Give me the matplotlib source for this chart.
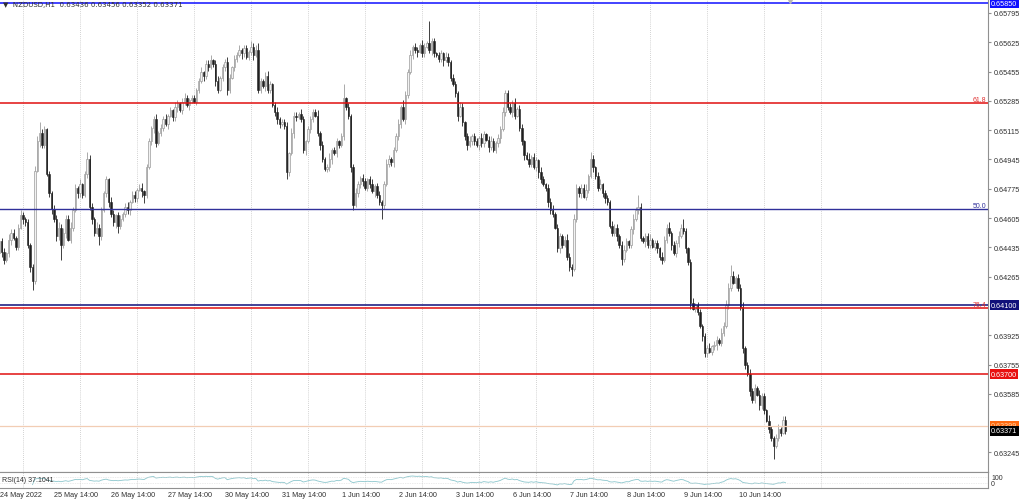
import numpy as np
import pandas as pd
import matplotlib
matplotlib.use('Agg')
import matplotlib.pyplot as plt
import matplotlib.transforms as mtransforms

plt.rcParams['font.family'] = ['Liberation Sans', 'DejaVu Sans']

# NZDUSD H1 closes in pips (0.0001), one row per ~day of 24 bars
closes_pips = [
    6447, 6441, 6436, 6440, 6448, 6452, 6449, 6444, 6455, 6462, 6460, 6458, 6445, 6432, 6424, 6488, 6505, 6510, 6503, 6512, 6486, 6475, 6466, 6460,
    6450, 6455, 6445, 6452, 6460, 6448, 6455, 6465, 6478, 6475, 6480, 6474, 6486, 6495, 6467, 6460, 6452, 6455, 6450, 6465, 6475, 6483, 6470, 6463,
    6458, 6462, 6456, 6460, 6463, 6467, 6465, 6470, 6474, 6472, 6477, 6478, 6476, 6474, 6490, 6505, 6513, 6518, 6504, 6510, 6513, 6518, 6515, 6520,
    6523, 6519, 6525, 6527, 6523, 6528, 6530, 6526, 6529, 6530, 6528, 6535, 6540, 6545, 6543, 6550, 6548, 6552, 6550, 6540, 6535, 6542, 6548, 6551,
    6535, 6542, 6548, 6553, 6555, 6558, 6556, 6559, 6554, 6557, 6560, 6555, 6558, 6535, 6540, 6537, 6543, 6535, 6538, 6526, 6522, 6518, 6515, 6516,
    6514, 6487, 6498, 6510, 6520, 6519, 6521, 6518, 6500, 6505, 6512, 6518, 6522, 6520, 6510, 6503, 6495, 6489, 6490, 6495, 6500, 6498, 6505, 6503,
    6508, 6530, 6525, 6520, 6490, 6468, 6475, 6480, 6484, 6482, 6478, 6483, 6480, 6476, 6479, 6474, 6470, 6468, 6480, 6492, 6495, 6493, 6500, 6508,
    6515, 6525, 6518, 6532, 6545, 6555, 6560, 6558, 6557, 6561, 6556, 6560, 6562, 6558, 6563, 6556, 6555, 6553, 6556, 6552, 6554, 6551, 6542, 6538,
    6533, 6520, 6525, 6516, 6508, 6503, 6505, 6508, 6505, 6503, 6507, 6504, 6509, 6506, 6502, 6505, 6500, 6504, 6507, 6512, 6522, 6533, 6525, 6522,
    6527, 6520, 6524, 6513, 6505, 6497, 6495, 6492, 6496, 6490, 6494, 6487, 6483, 6480, 6478, 6470, 6465, 6463, 6455, 6443, 6450, 6445, 6448, 6438,
    6432, 6431, 6460, 6478, 6475, 6478, 6473, 6477, 6485, 6495, 6490, 6485, 6478, 6480, 6475, 6472, 6470, 6456, 6452, 6455, 6450, 6445, 6437, 6442,
    6447, 6445, 6454, 6460, 6465, 6467, 6449, 6447, 6450, 6445, 6448, 6444, 6446, 6443, 6438, 6436, 6448, 6455, 6452, 6445, 6440, 6446, 6450, 6455,
    6453, 6443, 6435, 6411, 6408, 6410, 6406, 6398, 6392, 6382, 6385, 6383, 6386, 6387, 6390, 6388, 6394, 6398, 6410, 6420, 6427, 6423, 6426, 6420,
    6409, 6385, 6375, 6370, 6360, 6355, 6362, 6358, 6352, 6357, 6349, 6343, 6338, 6333, 6328, 6333, 6338, 6336, 6343.6, 6337.1,
]
first_open_pips = 6440

# wick lengths above / below the body, pips
upper_wick = [
    3, 2, 2, 1, 3, 2, 2, 1, 2, 3, 2, 1, 2, 1, 2, 3, 3, 6, 2, 2, 1, 2, 1, 2,
    2, 3, 2, 3, 2, 2, 3, 2, 2, 1, 3, 1, 2, 4, 2, 2, 1, 3, 2, 2, 1, 2, 1, 3,
    2, 1, 2, 2, 1, 2, 3, 1, 2, 2, 1, 2, 3, 1, 2, 2, 1, 2, 3, 1, 2, 2, 3, 1,
    2, 1, 3, 2, 1, 2, 3, 2, 1, 2, 2, 1, 2, 3, 1, 2, 2, 3, 1, 2, 3, 1, 2, 2,
    3, 2, 1, 2, 2, 3, 1, 2, 2, 1, 3, 2, 3, 4, 2, 1, 2, 3, 2, 1, 2, 3, 1, 2,
    2, 2, 1, 3, 2, 2, 1, 3, 2, 1, 2, 2, 2, 2, 3, 1, 2, 1, 2, 3, 1, 2, 2, 1,
    2, 8, 1, 2, 1, 2, 3, 2, 1, 2, 2, 1, 2, 3, 1, 2, 2, 1, 2, 3, 2, 1, 2, 2,
    3, 1, 4, 2, 2, 3, 1, 2, 2, 1, 3, 2, 1, 13, 2, 2, 1, 2, 2, 1, 3, 2, 1, 2,
    2, 1, 3, 2, 1, 2, 3, 1, 2, 2, 1, 3, 2, 1, 2, 3, 2, 1, 2, 2, 3, 2, 2, 2,
    2, 3, 1, 2, 2, 1, 2, 3, 1, 2, 2, 1, 3, 2, 1, 2, 2, 3, 1, 2, 2, 1, 2, 3,
    2, 2, 3, 2, 1, 2, 2, 3, 1, 4, 2, 1, 2, 3, 1, 2, 2, 1, 3, 2, 2, 1, 2, 3,
    2, 1, 2, 3, 2, 7, 2, 1, 2, 2, 3, 1, 2, 2, 1, 3, 2, 2, 3, 1, 2, 2, 3, 2,
    5, 2, 1, 2, 3, 1, 2, 2, 1, 2, 2, 3, 1, 2, 2, 1, 3, 2, 3, 3, 6, 3, 1, 2,
    2, 3, 1, 2, 3, 2, 2, 1, 3, 2, 2, 1, 3, 2, 1, 2, 3, 1, 2, 2.0,
]
lower_wick = [
    2, 3, 2, 1, 2, 3, 1, 2, 2, 1, 3, 2, 2, 3, 5, 2, 1, 3, 2, 2, 1, 2, 3, 2,
    3, 2, 9, 2, 3, 1, 2, 2, 1, 3, 2, 2, 1, 2, 2, 3, 2, 1, 5, 2, 1, 2, 3, 2,
    2, 3, 4, 2, 1, 2, 2, 3, 1, 2, 2, 1, 3, 5, 2, 1, 2, 3, 2, 1, 2, 2, 1, 3,
    1, 2, 2, 3, 1, 2, 2, 1, 3, 2, 1, 2, 2, 1, 3, 2, 2, 1, 2, 3, 2, 1, 2, 2,
    3, 2, 1, 2, 2, 1, 3, 2, 1, 2, 2, 3, 1, 2, 2, 1, 3, 2, 2, 1, 2, 3, 2, 1,
    2, 4, 2, 1, 3, 2, 1, 2, 2, 3, 1, 2, 2, 1, 2, 3, 2, 1, 2, 2, 3, 1, 2, 2,
    1, 2, 2, 2, 3, 3, 1, 2, 2, 3, 1, 2, 2, 1, 3, 2, 2, 8, 2, 1, 2, 2, 3, 1,
    2, 2, 1, 3, 2, 1, 2, 2, 3, 1, 2, 2, 1, 2, 3, 2, 1, 2, 2, 3, 1, 2, 2, 1,
    2, 3, 1, 2, 2, 3, 1, 2, 2, 1, 3, 2, 2, 1, 3, 2, 1, 2, 2, 3, 1, 2, 2, 1,
    3, 2, 1, 2, 2, 3, 1, 2, 2, 1, 2, 3, 2, 1, 2, 3, 2, 2, 1, 2, 3, 2, 1, 2,
    2, 4, 1, 2, 2, 3, 1, 2, 2, 1, 3, 2, 2, 1, 2, 3, 2, 1, 2, 2, 3, 2, 4, 2,
    1, 2, 2, 3, 1, 2, 2, 1, 3, 2, 2, 1, 2, 3, 2, 2, 1, 2, 2, 3, 1, 2, 2, 1,
    2, 3, 2, 3, 1, 2, 2, 1, 3, 2, 2, 1, 2, 2, 3, 1, 2, 2, 1, 2, 2, 1, 3, 2,
    2, 3, 2, 1, 3, 2, 2, 1, 3, 2, 2, 1, 2, 2, 7, 1, 2, 2, 1, 1.9,
]

time_labels = ['25 May 14:00', '26 May 14:00', '27 May 14:00', '30 May 14:00', '31 May 14:00',
               '1 Jun 14:00', '2 Jun 14:00', '3 Jun 14:00', '6 Jun 14:00', '7 Jun 14:00',
               '8 Jun 14:00', '9 Jun 14:00', '10 Jun 14:00']
# scale labels that are not covered by the price boxes
price_ticks = [0.65795, 0.65625, 0.65455, 0.65285, 0.65115, 0.64945, 0.64775, 0.64605,
               0.64435, 0.64265, 0.63925, 0.63755, 0.63585, 0.63245]

# horizontal lines: (price, colour, width)
hlines = [(0.65850, '#1010ff', 1.1), (0.65273, '#e01010', 1.1), (0.64658, '#30309a', 1.0),
          (0.64100, '#10107a', 1.1), (0.64083, '#e01010', 1.1), (0.63700, '#e01010', 1.1)]
fib_labels = [(0.65273, '61.8', '#e03030'), (0.64658, '50.0', '#30309a'), (0.64083, '76.4', '#e03030')]
price_boxes = [(0.65850, '#1010ff', 'white'), (0.64100, '#10107a', 'white'),
               (0.63700, '#e81010', 'white'), (0.63399, '#ff6a10', '#ffd0a0'),
               (0.63371, '#000000', 'white')]
bid_line = 0.63399

closes = np.array(closes_pips) / 10000
opens = np.r_[first_open_pips / 10000, closes[:-1]]
highs = np.maximum(opens, closes) + np.array(upper_wick) / 10000
lows = np.minimum(opens, closes) - np.array(lower_wick) / 10000
idx = np.arange(len(closes))

# RSI(14), Wilder smoothing
d = pd.Series(closes).diff()
gain = d.clip(lower=0).ewm(alpha=1 / 14, adjust=False, min_periods=14).mean()
loss = (-d.clip(upper=0)).ewm(alpha=1 / 14, adjust=False, min_periods=14).mean()
rsi = 100 - 100 / (1 + gain / loss)

W, H = 1024, 502
fig = plt.figure(figsize=(W / 100, H / 100), dpi=100)
ax = fig.add_axes([0, 1 - 473 / H, 988 / W, 473 / H])
ax2 = fig.add_axes([0, 1 - 489 / H, 988 / W, 16 / H])

xlim = (0.316, 416.3)
ax.set_xlim(*xlim)
ax.set_ylim(0.631318, 0.65876)

grid_idx = [10 + 24 * k for k in range(15)]
for a in (ax, ax2):
    a.vlines(grid_idx, 0, 1, transform=a.get_xaxis_transform(), colors='#c4c4c4',
             linestyles=(0, (1, 1.5)), linewidth=0.6, zorder=0)

bull = closes >= opens
wick_cols = np.where(bull, '#9c9c9c', '#202020')
ax.vlines(idx, lows, highs, colors=wick_cols, linewidth=0.6, zorder=2)
body_bottom = np.minimum(opens, closes)
body_h = np.maximum(np.abs(closes - opens), 0.00004)
ax.bar(idx[bull], body_h[bull], bottom=body_bottom[bull], width=0.62,
       facecolor='#f2f2f2', edgecolor='#9c9c9c', linewidth=0.5, zorder=3)
ax.bar(idx[~bull], body_h[~bull], bottom=body_bottom[~bull], width=0.62,
       facecolor='#202020', edgecolor='#202020', linewidth=0.4, zorder=3)

for p, c, lw in hlines:
    ax.axhline(p, color=c, linewidth=lw, zorder=4)
ax.axhline(bid_line, color='#f2cdb4', linewidth=0.9, zorder=4)

for p, t, c in fib_labels:
    ax.text(0.998, p, t, transform=ax.get_yaxis_transform(), ha='right', va='bottom',
            fontsize=5, color=c, zorder=5)

ax.yaxis.tick_right()
ax.set_yticks(price_ticks)
ax.set_yticklabels([f'{v:.5f}' for v in price_ticks])
ax.tick_params(axis='y', labelsize=5.2, length=2, pad=2, colors='#909090', labelcolor='#303030')
ax.set_xticks([])
for s in ('left', 'top'):
    ax.spines[s].set_visible(False)
for s in ('right', 'bottom'):
    ax.spines[s].set_color('#909090')
    ax.spines[s].set_linewidth(0.8)

for p, fc, tc in price_boxes:
    ax.text(1.003, p, f'{p:.5f}', transform=ax.get_yaxis_transform(), ha='left', va='center',
            fontsize=5.2, color=tc, clip_on=False, zorder=10,
            bbox=dict(boxstyle='square,pad=0.18', facecolor=fc, edgecolor='none'))

fig.text(3 / W, 1 - 5 / H, '\u25bc  NZDUSD,H1  0.63436 0.63456 0.63352 0.63371',
         fontsize=5, color='#303030', va='center', ha='left', family=['DejaVu Sans'])
ax.plot([333], [0.65872], marker='v', color='#b8b8b8', markersize=4, clip_on=False, zorder=6)

# RSI panel
ax2.set_xlim(*xlim)
ax2.set_ylim(0, 100)
ax2.plot(idx, rsi, color='#8cc6cc', linewidth=0.6)
for lvl in (70, 30):
    ax2.axhline(lvl, color='#d8d8d8', linewidth=0.5, linestyle=(0, (1, 1.5)))
ax2.set_xticks([])
ax2.set_yticks([])
ax2.spines['left'].set_visible(False)
for s in ('right', 'bottom', 'top'):
    ax2.spines[s].set_color('#909090')
    ax2.spines[s].set_linewidth(0.8)
ax2.text(0.002, 0.55, 'RSI(14) 37.1041', transform=ax2.transAxes, fontsize=5,
         color='#303030', va='center', ha='left')
fig.text(991 / W, 1 - 479 / H, '100', fontsize=5, color='#303030', va='center')
fig.text(991 / W, 1 - 485 / H, '0', fontsize=5, color='#303030', va='center')

tr = mtransforms.blended_transform_factory(ax2.transData, ax2.transAxes)
ax2.text(0.5, -0.4, '24 May 2022', transform=tr, fontsize=5.2, color='#303030',
         ha='left', va='center', clip_on=False)
for g, lab in zip(grid_idx[1:], time_labels):
    ax2.text(g - 1.7, -0.4, lab, transform=tr, fontsize=5.2, color='#303030',
             ha='center', va='center', clip_on=False)

fig.savefig('out.png', dpi=100, facecolor='white')
